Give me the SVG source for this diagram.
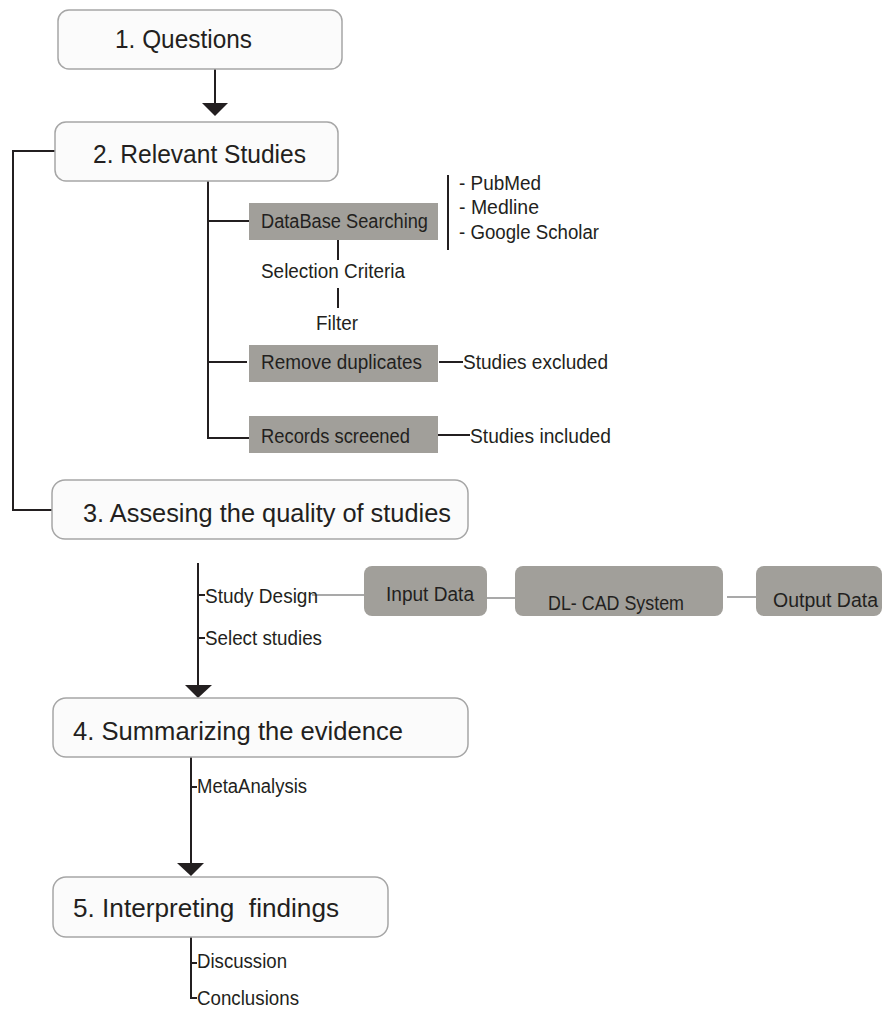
<svg xmlns="http://www.w3.org/2000/svg" width="884" height="1012" viewBox="0 0 884 1012">
<style>
.box{fill:#fbfbfb;stroke:#a6a6a6;stroke-width:1.5}
.gray{fill:#a19f9a}
.t{font-family:"Liberation Sans",Arial,sans-serif;fill:#231f20}
.big{font-size:25px}
.sm{font-size:20px}
.ln{stroke:#231f20;stroke-width:2;fill:none}
.gl{stroke:#8c8c8c;stroke-width:1.5;fill:none}
.ah{fill:#231f20}
</style>
<rect width="884" height="1012" fill="#ffffff"/>
<g id="connectors">
<line class="ln" x1="215" y1="69" x2="215" y2="104"/>
<polygon class="ah" points="202,103 228,103 215,116"/>
<polyline class="ln" points="55,151 13,151 13,510 52,510"/>
<polyline class="ln" points="208,181 208,438 250,438"/>
<line class="ln" x1="208" y1="221" x2="253" y2="221"/>
<line class="ln" x1="208" y1="362" x2="247" y2="362"/>
<line class="ln" x1="448" y1="175" x2="448" y2="250"/>
<line class="ln" x1="338" y1="240" x2="338" y2="260"/>
<line class="ln" x1="338" y1="288" x2="338" y2="308"/>
<line class="ln" x1="439" y1="362" x2="463" y2="362"/>
<line class="ln" x1="438" y1="435" x2="470" y2="435"/>
<line class="ln" x1="198" y1="563" x2="198" y2="686"/>
<polygon class="ah" points="185,685 212,685 198,698"/>
<line class="ln" x1="198" y1="595" x2="205" y2="595"/>
<line class="ln" x1="198" y1="638" x2="205" y2="638"/>
<line class="gl" x1="312" y1="595" x2="364" y2="595"/>
<line class="gl" x1="487" y1="598" x2="515" y2="598"/>
<line class="gl" x1="727" y1="597" x2="756" y2="597"/>
<line class="ln" x1="191" y1="757" x2="191" y2="864"/>
<polygon class="ah" points="177,863 204,863 191,876"/>
<line class="ln" x1="191" y1="787" x2="197" y2="787"/>
<polyline class="ln" points="191,937 191,998 197,998"/>
<line class="ln" x1="191" y1="963" x2="197" y2="963"/>
</g>
<g id="n1">
<rect class="box" x="58" y="10" width="284" height="59" rx="11"/>
<text class="t big" x="115" y="48" textLength="137" lengthAdjust="spacingAndGlyphs">1. Questions</text>
</g>
<g id="n2">
<rect class="box" x="55" y="122" width="283" height="59" rx="11"/>
<text class="t big" x="93" y="163" textLength="213" lengthAdjust="spacingAndGlyphs">2. Relevant Studies</text>
</g>
<g id="db">
<rect class="gray" x="249" y="203" width="189" height="37"/>
<text class="t sm" x="261" y="228" textLength="167" lengthAdjust="spacingAndGlyphs">DataBase Searching</text>
</g>
<g id="sources">
<text class="t sm" x="459" y="190" textLength="82" lengthAdjust="spacingAndGlyphs">- PubMed</text>
<text class="t sm" x="459" y="214" textLength="80" lengthAdjust="spacingAndGlyphs">- Medline</text>
<text class="t sm" x="459" y="239" textLength="140" lengthAdjust="spacingAndGlyphs">- Google Scholar</text>
</g>
<g id="sel">
<text class="t sm" x="261" y="278" textLength="144" lengthAdjust="spacingAndGlyphs">Selection Criteria</text>
</g>
<g id="filter">
<text class="t sm" x="316" y="330" textLength="42" lengthAdjust="spacingAndGlyphs">Filter</text>
</g>
<g id="dup">
<rect class="gray" x="249" y="345" width="189" height="37"/>
<text class="t sm" x="261" y="369" textLength="161" lengthAdjust="spacingAndGlyphs">Remove duplicates</text>
</g>
<g id="excl">
<text class="t sm" x="463" y="369" textLength="145" lengthAdjust="spacingAndGlyphs">Studies excluded</text>
</g>
<g id="rec">
<rect class="gray" x="249" y="416" width="189" height="37"/>
<text class="t sm" x="261" y="443" textLength="149" lengthAdjust="spacingAndGlyphs">Records screened</text>
</g>
<g id="incl">
<text class="t sm" x="470" y="443" textLength="141" lengthAdjust="spacingAndGlyphs">Studies included</text>
</g>
<g id="n3">
<rect class="box" x="52" y="480" width="416" height="59" rx="13"/>
<text class="t big" x="83" y="522" textLength="368" lengthAdjust="spacingAndGlyphs">3. Assesing the quality of studies</text>
</g>
<g id="design">
<text class="t sm" x="205" y="603" textLength="113" lengthAdjust="spacingAndGlyphs">Study Design</text>
</g>
<g id="select">
<text class="t sm" x="205" y="645" textLength="117" lengthAdjust="spacingAndGlyphs">Select studies</text>
</g>
<g id="input">
<rect class="gray" x="364" y="566" width="123" height="50" rx="8"/>
<text class="t sm" x="386" y="601" textLength="88" lengthAdjust="spacingAndGlyphs">Input Data</text>
</g>
<g id="cad">
<rect class="gray" x="515" y="566" width="208" height="50" rx="8"/>
<text class="t sm" x="548" y="610" textLength="136" lengthAdjust="spacingAndGlyphs">DL- CAD System</text>
</g>
<g id="output">
<rect class="gray" x="756" y="566" width="126" height="50" rx="8"/>
<text class="t sm" x="773" y="607" textLength="105" lengthAdjust="spacingAndGlyphs">Output Data</text>
</g>
<g id="n4">
<rect class="box" x="53" y="698" width="415" height="59" rx="13"/>
<text class="t big" x="73" y="740" textLength="330" lengthAdjust="spacingAndGlyphs">4. Summarizing the evidence</text>
</g>
<g id="meta">
<text class="t sm" x="197" y="793" textLength="110" lengthAdjust="spacingAndGlyphs">MetaAnalysis</text>
</g>
<g id="n5">
<rect class="box" x="53" y="877" width="335" height="60" rx="13"/>
<text class="t big" x="73" y="917" xml:space="preserve" textLength="266" lengthAdjust="spacingAndGlyphs">5. Interpreting  findings</text>
</g>
<g id="disc">
<text class="t sm" x="197" y="968" textLength="90" lengthAdjust="spacingAndGlyphs">Discussion</text>
</g>
<g id="concl">
<text class="t sm" x="197" y="1005" textLength="102" lengthAdjust="spacingAndGlyphs">Conclusions</text>
</g>
</svg>
